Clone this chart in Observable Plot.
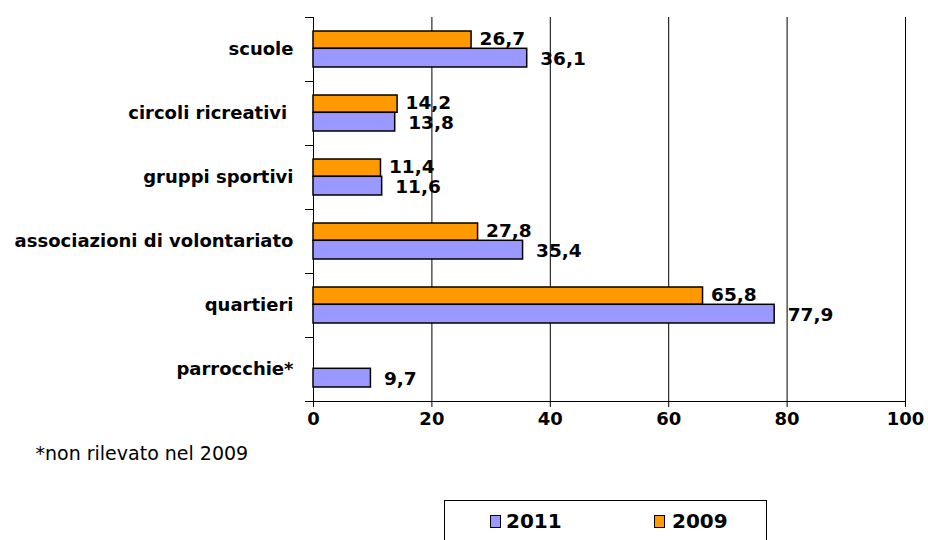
<!DOCTYPE html>
<html><head><meta charset="utf-8">
<script src="https://cdn.jsdelivr.net/npm/d3@7"></script>
<script src="https://cdn.jsdelivr.net/npm/@observablehq/plot@0.6"></script>
<style>
body{margin:0;background:#fff;font-family:"DejaVu Sans",sans-serif}
svg text{white-space:pre}
#legend{position:relative;margin-left:444px;width:323px;height:50px;border:1px solid #000;box-sizing:border-box}
#legend .sw{position:absolute;top:14px;width:9px;height:11px;border:1px solid #000}
#legend .lb{position:absolute;top:8px;font-weight:bold;font-size:20px;line-height:24px}
</style></head><body>
<div id="chart"></div>
<div id="legend"></div>
<script>
const categories = ["scuole", "circoli ricreativi ", "gruppi sportivi", "associazioni di volontariato", "quartieri", "parrocchie*"];
const values2011 = [36.1, 13.8, 11.6, 35.4, 77.9, 9.7];
const values2009 = [26.7, 14.2, 11.4, 27.8, 65.8, null];
const xTicks = [0, 20, 40, 60, 80, 100];
const gridValues = [20, 40, 60, 80, 100];
const seriesNames = ["2011", "2009"];
const seriesColors = ["#9999FF", "#FF9900"];
const footnote = "*non rilevato nel 2009";

const fmt = v => v.toFixed(1).replace(".", ",");
const rows2011 = categories.map((c, i) => ({cat: c, v: values2011[i]}));
const rows2009 = categories.map((c, i) => ({cat: c, v: values2009[i]})).filter(d => d.v != null);

const chart = Plot.plot({
  width: 928, height: 500,
  marginLeft: 313, marginRight: 23, marginTop: 17, marginBottom: 99,
  style: {fontFamily: "DejaVu Sans, sans-serif", background: "#fff", color: "#000"},
  x: {domain: [0, 100], axis: null},
  y: {domain: categories, padding: 0, axis: null},
  marks: [
    Plot.ruleX(gridValues, {stroke: "#000", strokeWidth: 1}),
    Plot.ruleX([0], {stroke: "#000", strokeWidth: 1}),
    Plot.ruleY(categories, {y: d => d, x1: -1.35, x2: 0, dy: -32, stroke: "#000", clip: false}),
    Plot.ruleY([categories[categories.length - 1]], {y: d => d, x1: -1.35, x2: 100, dy: 32, stroke: "#000", clip: false}),
    Plot.barX(rows2009, {y: "cat", x: "v", fill: seriesColors[1], stroke: "#000", strokeWidth: 1.5, insetTop: 14, insetBottom: 32.7}),
    Plot.barX(rows2011, {y: "cat", x: "v", fill: seriesColors[0], stroke: "#000", strokeWidth: 1.5, insetTop: 31.3, insetBottom: 14}),
    Plot.text(rows2009, {y: "cat", x: "v", text: d => fmt(d.v), textAnchor: "start", dx: 8, dy: -10, fontSize: 18.5, fontWeight: "bold", fill: "#000"}),
    Plot.text(rows2011, {y: "cat", x: "v", text: d => fmt(d.v), textAnchor: "start", dx: 13, dy: 10, fontSize: 18.5, fontWeight: "bold", fill: "#000"}),
    Plot.axisY({tickSize: 0, tickPadding: 20, fontSize: 18, fontWeight: "bold", label: null}),
    Plot.axisX({ticks: xTicks, tickSize: 6, tickPadding: 5, fontSize: 18, fontWeight: "bold", label: null, tickFormat: d => String(d)}),
    Plot.text([footnote], {frameAnchor: "bottom-left", textAnchor: "start", dx: -278, dy: 58, fontSize: 19, fill: "#000"})
  ]
});
document.getElementById("chart").appendChild(chart);

const legend = document.getElementById("legend");
const legendPos = [[45, 61], [209, 227]];
seriesNames.forEach((n, i) => {
  const sw = document.createElement("div");
  sw.className = "sw";
  sw.style.left = legendPos[i][0] + "px";
  sw.style.background = seriesColors[i];
  legend.appendChild(sw);
  const lb = document.createElement("div");
  lb.className = "lb";
  lb.style.left = legendPos[i][1] + "px";
  lb.textContent = n;
  legend.appendChild(lb);
});
</script>
</body></html>
